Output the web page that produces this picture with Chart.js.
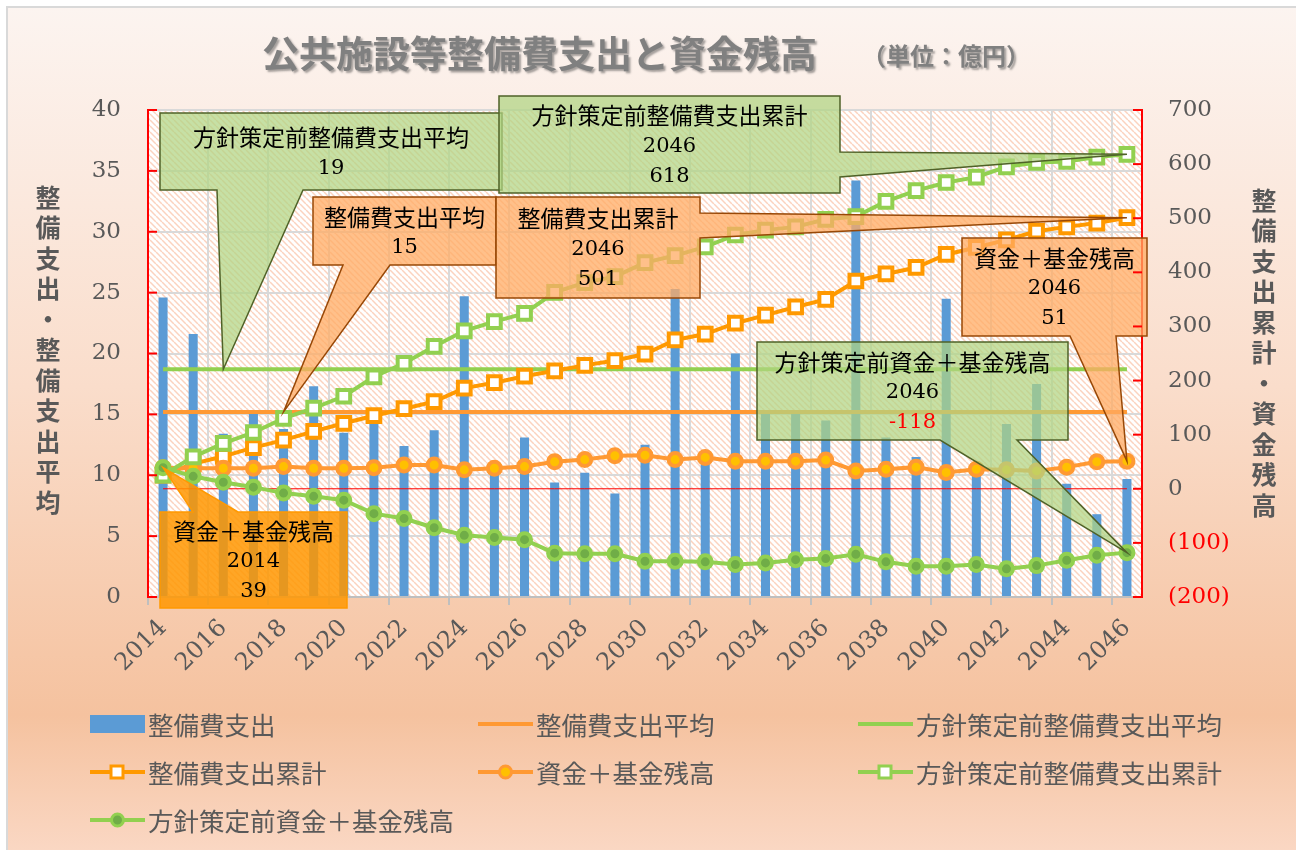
<!DOCTYPE html>
<html lang="ja">
<head>
<meta charset="utf-8">
<title>公共施設等整備費支出と資金残高</title>
<script src="https://cdn.jsdelivr.net/npm/chart.js@4/dist/chart.umd.min.js"></script>
<style>
  html, body { margin: 0; padding: 0; background: #fff; }
  #wrap { width: 1296px; height: 850px; }
</style>
</head>
<body>
<div id="wrap"><canvas id="chart" width="1296" height="850"></canvas></div>
<script>
// ----- Data (億円) -----
const years = ['2014','2015','2016','2017','2018','2019','2020','2021','2022','2023','2024',
  '2025','2026','2027','2028','2029','2030','2031','2032','2033','2034','2035',
  '2036','2037','2038','2039','2040','2041','2042','2043','2044','2045','2046'];

// 整備費支出 (left axis)
const spending = [24.6, 21.6, 13.4, 15.1, 13.8, 17.3, 13.5, 14.9, 12.4, 13.7, 24.7,
  10.5, 13.1, 9.4, 10.2, 8.5, 12.5, 25.3, 11.2, 20.0, 15.1, 15.1,
  14.5, 34.2, 13.1, 11.5, 24.5, 10.4, 14.2, 17.5, 9.3, 6.8, 9.7];

// 平均 (left axis)
const spendingAvg = 15.2;
const prePolicyAvg = 18.7;

// 整備費支出累計 (right axis)
const spendingCum = [25, 46, 60, 76, 90, 106, 121, 135, 148, 161, 186,
  196, 208, 218, 228, 237, 249, 275, 286, 306, 321, 336,
  350, 384, 397, 409, 433, 446, 460, 476, 484, 491, 501];

// 資金＋基金残高 (right axis)
const balance = [39, 38, 38, 38, 41, 38, 38, 39, 44, 44, 35,
  38, 41, 50, 54, 61, 62, 54, 58, 51, 51, 51,
  53, 33, 36, 40, 30, 36, 35, 33, 40, 50, 51];

// 方針策定前整備費支出累計 (right axis)
const prePolicyCum = [25, 59, 84, 104, 130, 149, 171, 207, 232, 263, 292,
  309, 324, 363, 381, 392, 418, 431, 447, 469, 478, 484,
  498, 503, 531, 551, 566, 576, 595, 603, 605, 613, 618];

// 方針策定前資金＋基金残高 (right axis)
const prePolicyBalance = [39, 23, 12, 3, -8, -14, -21, -46, -55, -72, -86,
  -90, -94, -119, -120, -120, -134, -134, -135, -140, -137, -131,
  -129, -121, -135, -143, -143, -140, -148, -142, -132, -123, -118];

const leftRange = [0, 40, 5];
const rightRange = [-200, 700, 100];

// ----- Colours / fonts -----
const BLUE = '#5B9BD5';
const ORANGE = '#FF9933';
const GREEN = '#92D050';
const GRAY_TXT = '#595959';
const NUM_FONT = '"DejaVu Serif", "Liberation Serif", serif';
const JP_FONT = '"Noto Sans CJK JP", "Noto Sans", sans-serif';

Chart.defaults.font.family = JP_FONT;

// hatch pattern for plot area
function makeHatch() {
    const c = document.createElement('canvas');
    c.width = 6; c.height = 6;
    const g = c.getContext('2d');
    g.fillStyle = '#ffffff';
    g.fillRect(0, 0, 6, 6);
    g.strokeStyle = '#FBD3BF';
    g.lineWidth = 1.5;
    [-6, 0, 6].forEach(o => {
        g.beginPath();
        g.moveTo(o, 0);
        g.lineTo(o + 6, 6);
        g.stroke();
    });
    return g.createPattern(c, 'repeat');
}

// ----- Callouts (box layout in px, tip taken from the data point) -----
const GREEN_BOX = { fill: 'rgba(176,212,130,0.72)', stroke: '#4F6228' };
const ORANGE_BOX = { fill: 'rgba(255,171,99,0.75)', stroke: '#984807' };
const ORANGE_BOX2 = { fill: 'rgba(255,150,0,0.85)', stroke: '#FF9900' };

const callouts = [
    { ds: 2, idx: 2, avg: true, box: [160, 113, 502, 190], edge: 'bottom', base: [217, 303], style: GREEN_BOX },
    { ds: 1, idx: 4, avg: true, box: [313, 197, 496, 265], edge: 'bottom', base: [343, 390], style: ORANGE_BOX },
    { ds: 5, idx: 32, box: [499, 96, 840, 193], edge: 'right', base: [152, 177], style: GREEN_BOX },
    { ds: 3, idx: 32, box: [496, 197, 700, 298], edge: 'right', base: [213, 238], style: ORANGE_BOX },
    { ds: 4, idx: 32, box: [962, 238, 1147, 336], edge: 'bottom', base: [1070, 1116], style: ORANGE_BOX },
    { ds: 6, idx: 32, box: [757, 342, 1068, 440], edge: 'bottom', base: [940, 1017], style: GREEN_BOX },
    { ds: 4, idx: 0, box: [160, 512, 347, 608], edge: 'top', base: [193, 238], style: ORANGE_BOX2 }
];

function calloutPath(ctx, c, tip) {
    const [x1, y1, x2, y2] = c.box;
    const [b1, b2] = c.base;
    ctx.beginPath();
    ctx.moveTo(x1, y1);
    if (c.edge === 'top') { ctx.lineTo(b1, y1); ctx.lineTo(tip.x, tip.y); ctx.lineTo(b2, y1); }
    ctx.lineTo(x2, y1);
    if (c.edge === 'right') { ctx.lineTo(x2, b1); ctx.lineTo(tip.x, tip.y); ctx.lineTo(x2, b2); }
    ctx.lineTo(x2, y2);
    if (c.edge === 'bottom') { ctx.lineTo(b2, y2); ctx.lineTo(tip.x, tip.y); ctx.lineTo(b1, y2); }
    ctx.lineTo(x1, y2);
    ctx.closePath();
}

const calloutPlugin = {
    id: 'callouts',
    afterDatasetsDraw(chart) {
        const ctx = chart.ctx;
        callouts.forEach(c => {
            const dataset = chart.data.datasets[c.ds];
            const pt = chart.getDatasetMeta(c.ds).data[c.idx];
            const value = dataset.data[c.idx];
            const lines = c.avg
                ? [dataset.label, String(Math.round(value))]
                : [dataset.label, years[c.idx], String(Math.round(value))];

            ctx.save();
            calloutPath(ctx, c, pt);
            ctx.fillStyle = c.style.fill;
            ctx.fill();
            ctx.lineWidth = 1.5;
            ctx.strokeStyle = c.style.stroke;
            ctx.stroke();

            const [x1, y1, x2, y2] = c.box;
            const cx = (x1 + x2) / 2;
            const cy = (y1 + y2) / 2;
            const step = 30;
            ctx.textAlign = 'center';
            ctx.textBaseline = 'middle';
            lines.forEach((t, i) => {
                const y = cy + (i - (lines.length - 1) / 2) * step;
                if (i === 0) {
                    ctx.font = '23px ' + JP_FONT;
                    ctx.fillStyle = '#000';
                } else {
                    ctx.font = '21px ' + NUM_FONT;
                    ctx.fillStyle = (t.startsWith('-')) ? '#FF0000' : '#000';
                }
                ctx.fillText(t, cx, y + (i === 0 ? 1 : 2));
            });
            ctx.restore();
        });
    }
};

// ----- Background, title, axis titles, inside ticks, legend -----
const decorPlugin = {
    id: 'decor',
    beforeDraw(chart) {
        const { ctx, chartArea: a } = chart;
        ctx.save();
        ctx.fillStyle = '#ffffff';
        ctx.fillRect(0, 0, chart.width, chart.height);
        const grad = ctx.createLinearGradient(0, 8, 0, chart.height);
        grad.addColorStop(0, '#FCF4F0');
        grad.addColorStop(0.45, '#FADDCB');
        grad.addColorStop(0.84, '#F5C29F');
        grad.addColorStop(1, '#FAD7C3');
        ctx.fillStyle = grad;
        ctx.fillRect(8, 8, chart.width - 8, chart.height - 8);
        ctx.strokeStyle = '#D9D9D9';
        ctx.lineWidth = 2;
        ctx.beginPath();
        ctx.moveTo(7, chart.height);
        ctx.lineTo(7, 7);
        ctx.lineTo(chart.width, 7);
        ctx.stroke();
        ctx.fillStyle = makeHatch();
        ctx.fillRect(a.left, a.top, a.right - a.left, a.bottom - a.top);
        ctx.restore();
    },
    afterDraw(chart) {
        const { ctx, chartArea: a, scales } = chart;
        ctx.save();

        // inside red tick marks
        ctx.strokeStyle = '#FF0000';
        ctx.lineWidth = 2;
        scales.y.ticks.forEach(t => {
            const y = scales.y.getPixelForValue(t.value);
            ctx.beginPath(); ctx.moveTo(a.left, y); ctx.lineTo(a.left + 9, y); ctx.stroke();
        });
        scales.y2.ticks.forEach(t => {
            const y = scales.y2.getPixelForValue(t.value);
            ctx.beginPath(); ctx.moveTo(a.right - 9, y); ctx.lineTo(a.right, y); ctx.stroke();
        });

        // title
        ctx.save();
        ctx.fillStyle = '#808080';
        ctx.shadowColor = 'rgba(60,60,60,0.45)';
        ctx.shadowOffsetX = 2;
        ctx.shadowOffsetY = 2;
        ctx.shadowBlur = 2;
        ctx.textBaseline = 'middle';
        ctx.textAlign = 'left';
        ctx.font = 'bold 37px ' + JP_FONT;
        ctx.fillText('公共施設等整備費支出と資金残高', 262, 54);
        ctx.font = 'bold 24px ' + JP_FONT;
        ctx.fillText('（単位：億円）', 862, 56);
        ctx.restore();

        // vertical axis titles
        ctx.fillStyle = GRAY_TXT;
        ctx.font = 'bold 25px ' + JP_FONT;
        ctx.textAlign = 'center';
        ctx.textBaseline = 'middle';
        const drawVertical = (text, x, y0) => {
            [...text].forEach((ch, i) => ctx.fillText(ch, x, y0 + i * 30.5));
        };
        drawVertical('整備支出・整備支出平均', 48, 197);
        drawVertical('整備支出累計・資金残高', 1264, 200);

        // legend
        const legend = [
            { ds: 0, x: 90, y: 724 }, { ds: 1, x: 478, y: 724 }, { ds: 2, x: 858, y: 724 },
            { ds: 3, x: 90, y: 772 }, { ds: 4, x: 478, y: 772 }, { ds: 5, x: 858, y: 772 },
            { ds: 6, x: 90, y: 820 }
        ];
        legend.forEach(item => {
            const d = chart.data.datasets[item.ds];
            const x = item.x, y = item.y;
            if (d.type === 'bar') {
                ctx.fillStyle = d.backgroundColor;
                ctx.fillRect(x, y - 9, 55, 18);
            } else {
                ctx.strokeStyle = d.borderColor;
                ctx.lineWidth = 4;
                ctx.beginPath(); ctx.moveTo(x, y); ctx.lineTo(x + 55, y); ctx.stroke();
                if (d.pointRadius > 0) {
                    ctx.fillStyle = d.pointBackgroundColor;
                    ctx.strokeStyle = d.pointBorderColor;
                    ctx.lineWidth = 3;
                    ctx.beginPath();
                    if (d.pointStyle === 'rect') ctx.rect(x + 21, y - 6, 12, 12);
                    else ctx.arc(x + 27.5, y, 6, 0, Math.PI * 2);
                    ctx.fill(); ctx.stroke();
                }
            }
            ctx.fillStyle = GRAY_TXT;
            ctx.font = '25.5px ' + JP_FONT;
            ctx.textAlign = 'left';
            ctx.textBaseline = 'middle';
            ctx.fillText(d.label, x + 58, y + 1);
        });
        ctx.restore();
    }
};

// ----- Chart -----
const ctx = document.getElementById('chart').getContext('2d');
const lineBase = { type: 'line', borderWidth: 4, tension: 0, fill: false };

new Chart(ctx, {
    data: {
        labels: years,
        datasets: [
            { type: 'bar', label: '整備費支出', data: spending, yAxisID: 'y',
              backgroundColor: BLUE, barPercentage: 0.3, categoryPercentage: 1, order: 10 },
            { ...lineBase, label: '整備費支出平均', data: years.map(() => spendingAvg), yAxisID: 'y',
              borderColor: ORANGE, pointRadius: 0, order: 8 },
            { ...lineBase, label: '方針策定前整備費支出平均', data: years.map(() => prePolicyAvg), yAxisID: 'y',
              borderColor: GREEN, pointRadius: 0, order: 7 },
            { ...lineBase, label: '整備費支出累計', data: spendingCum, yAxisID: 'y2',
              borderColor: '#FF9900', pointStyle: 'rect', pointRadius: 9, pointBorderWidth: 4,
              pointBackgroundColor: '#FFFFFF', pointBorderColor: '#FF9900', order: 6 },
            { ...lineBase, label: '資金＋基金残高', data: balance, yAxisID: 'y2',
              borderColor: ORANGE, pointStyle: 'circle', pointRadius: 6.5, pointBorderWidth: 4,
              pointBackgroundColor: '#FFC000', pointBorderColor: ORANGE, order: 5 },
            { ...lineBase, label: '方針策定前整備費支出累計', data: prePolicyCum, yAxisID: 'y2',
              borderColor: GREEN, pointStyle: 'rect', pointRadius: 9, pointBorderWidth: 4,
              pointBackgroundColor: '#FFFFFF', pointBorderColor: GREEN, order: 4 },
            { ...lineBase, label: '方針策定前資金＋基金残高', data: prePolicyBalance, yAxisID: 'y2',
              borderColor: GREEN, pointStyle: 'circle', pointRadius: 6.5, pointBorderWidth: 4,
              pointBackgroundColor: '#70AD47', pointBorderColor: GREEN, order: 3 },
            // zero line of the right axis
            { ...lineBase, label: '', data: years.map(() => 0), yAxisID: 'y2',
              borderColor: '#FF0000', borderWidth: 1, pointRadius: 0, order: 9 }
        ]
    },
    options: {
        responsive: false,
        animation: false,
        devicePixelRatio: 1,
        layout: { padding: { top: 110, left: 0, right: 0, bottom: 0 } },
        plugins: {
            legend: { display: false },
            title: { display: false },
            tooltip: { enabled: false }
        },
        scales: {
            x: {
                offset: true,
                grid: {
                    offset: true,
                    lineWidth: 2,
                    tickLength: 8,
                    color: c => (c.index % 2 === 0 ? '#D9D9D9' : 'rgba(0,0,0,0)'),
                    tickColor: c => (c.index % 2 === 0 ? '#BFBFBF' : 'rgba(0,0,0,0)')
                },
                border: { color: '#BFBFBF', width: 2 },
                ticks: {
                    autoSkip: false,
                    minRotation: 45,
                    maxRotation: 45,
                    padding: 9,
                    color: GRAY_TXT,
                    font: { family: NUM_FONT, size: 24 },
                    callback: (v, i) => (i % 2 === 0 ? years[i] : '')
                },
                afterFit: s => { s.height = 253; }
            },
            y: {
                position: 'left',
                min: leftRange[0], max: leftRange[1],
                ticks: { stepSize: leftRange[2], padding: 27, color: GRAY_TXT,
                         font: { family: NUM_FONT, size: 23 } },
                grid: { color: '#D9D9D9', lineWidth: 2, drawTicks: false },
                border: { color: '#FF0000', width: 2 },
                afterFit: s => { s.width = 148; }
            },
            y2: {
                position: 'right',
                min: rightRange[0], max: rightRange[1],
                ticks: {
                    stepSize: rightRange[2], padding: 26,
                    font: { family: NUM_FONT, size: 23 },
                    color: c => (c.tick && c.tick.value < 0 ? '#FF0000' : GRAY_TXT),
                    callback: v => (v < 0 ? '(' + Math.abs(v) + ')' : String(v))
                },
                grid: { display: false, drawTicks: false },
                border: { color: '#FF0000', width: 2 },
                afterFit: s => { s.width = 154; }
            }
        }
    },
    plugins: [decorPlugin, calloutPlugin]
});
</script>
</body>
</html>
